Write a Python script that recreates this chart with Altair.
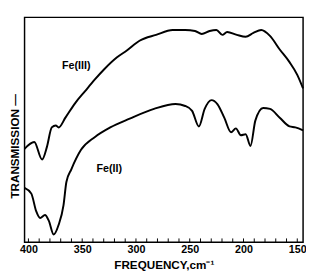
import altair as alt
import pandas as pd

# Fe(III) spectrum (frequency cm^-1, transmission arbitrary units)
fe3_freq = [403.6, 394.6, 387.3, 382.8, 378.3, 374.6, 371.9, 365.6, 356.5, 347.5, 338.4,
            329.3, 317.6, 308.5, 296.7, 281.3, 265.9, 254.2, 245.1, 238.8, 231.5, 225.2,
            219.7, 215.2, 206.2, 198.0, 190.8, 183.5, 175.4, 166.3, 157.2, 150.0, 144.6]
fe3_trans = [96, 103, 85, 98, 118, 120, 118, 128, 143, 155, 167,
             178, 190, 197, 207, 213, 218, 218, 217, 214, 217, 218,
             213, 216, 213, 211, 215, 218, 212, 198, 185, 172, 158]

# Fe(II) spectrum
fe2_freq = [403.6, 397.3, 392.8, 389.1, 384.6, 381.0, 376.5, 371.9, 367.4, 364.7, 360.1,
            351.1, 338.4, 323.9, 305.8, 283.2, 263.2, 254.2, 247.8, 241.5, 236.1, 229.7,
            224.3, 217.9, 211.6, 207.1, 202.5, 198.0, 193.5, 189.0, 181.7, 175.4, 166.3,
            157.2, 151.8, 144.6]
fe2_trans = [56, 50, 32, 25, 28, 22, 8, 18, 38, 62, 75,
             95, 108, 118, 127, 137, 142, 140, 135, 119, 137, 146,
             142, 128, 113, 117, 110, 111, 99, 125, 138, 137, 128,
             119, 118, 115]

label_text = ["Fe(III)", "Fe(II)"]
label_freq = [355.6, 324.8]
label_trans = [181, 75]

tick_values = [400, 350, 300, 250, 200, 150]
minor_ticks = list(range(400, 149, -10))

FONT = "Liberation Sans"
W, H = 286, 231

fe3 = pd.DataFrame({"freq": fe3_freq, "trans": fe3_trans, "series": "Fe(III)"})
fe2 = pd.DataFrame({"freq": fe2_freq, "trans": fe2_trans, "series": "Fe(II)"})
curves = pd.concat([fe3, fe2], ignore_index=True)
labels = pd.DataFrame({"text": label_text, "freq": label_freq, "trans": label_trans})
ticks = pd.DataFrame({"freq": minor_ticks})

xscale = alt.Scale(domain=[144.6, 403.6], reverse=True, nice=False, zero=False)
yscale = alt.Scale(domain=[0, 231], nice=False, zero=False)

xaxis = alt.Axis(values=tick_values, title="FREQUENCY,cm\u207b\u00b9", grid=False,
                 domain=False, ticks=False, labelFont=FONT, labelFontWeight="bold",
                 labelFontSize=11, labelColor="black", labelPadding=1,
                 titleFont=FONT, titleFontWeight="bold", titleFontSize=12,
                 titleColor="black", titlePadding=6, labelFlush=False)
yaxis = alt.Axis(title="TRANSMISSION \u2014", grid=False, domain=False, ticks=False,
                 labels=False, titleFont=FONT, titleFontWeight="bold", titleFontSize=12,
                 titleColor="black", titlePadding=3, titleY=132)

lines = alt.Chart(curves).mark_line(color="black", strokeWidth=2,
                                    interpolate="monotone").encode(
    x=alt.X("freq:Q", scale=xscale, axis=xaxis),
    y=alt.Y("trans:Q", scale=yscale, axis=yaxis),
    detail="series:N",
)

texts = alt.Chart(labels).mark_text(font=FONT, fontWeight="bold", fontSize=11,
                                    color="black").encode(
    x=alt.X("freq:Q", scale=xscale),
    y=alt.Y("trans:Q", scale=yscale),
    text="text:N",
)

tick_marks = alt.Chart(ticks).mark_rule(color="black", strokeWidth=1).encode(
    x=alt.X("freq:Q", scale=xscale),
    y=alt.value(H),
    y2=alt.value(H - 4),
)

chart = alt.layer(lines, texts, tick_marks).properties(
    width=W, height=H,
    autosize=alt.AutoSizeParams(type="none"),
    padding={"left": 17, "top": 6, "right": 3, "bottom": 32},
).configure(
    background="white",
    view=alt.ViewConfig(stroke="black", strokeWidth=1.5),
)

chart.save("out.html", embed_options={"renderer": "svg", "actions": False})
